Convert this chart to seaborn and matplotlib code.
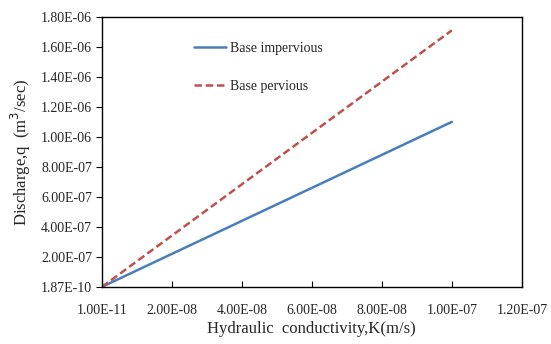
import matplotlib
matplotlib.use("Agg")
import matplotlib.pyplot as plt
import seaborn as sns
import pandas as pd

# Data
k_values = [1e-11, 1e-7]
q_impervious = [1.87e-10, 1.10e-6]
q_pervious = [1.87e-10, 1.71e-6]

x_ticks = [0, 2e-8, 4e-8, 6e-8, 8e-8, 1e-7, 1.2e-7]
x_tick_labels = ["1.00E-11", "2.00E-08", "4.00E-08", "6.00E-08", "8.00E-08", "1.00E-07", "1.20E-07"]
y_ticks = [0, 2e-7, 4e-7, 6e-7, 8e-7, 1e-6, 1.2e-6, 1.4e-6, 1.6e-6, 1.8e-6]
y_tick_labels = ["1.87E-10", "2.00E-07", "4.00E-07", "6.00E-07", "8.00E-07", "1.00E-06",
                 "1.20E-06", "1.40E-06", "1.60E-06", "1.80E-06"]

df = pd.DataFrame({
    "K": k_values * 2,
    "q": q_impervious + q_pervious,
    "series": ["Base impervious"] * len(k_values) + ["Base pervious"] * len(k_values),
})

sns.set_style("white")
plt.rcParams["font.family"] = ["Liberation Serif", "DejaVu Serif"]

fig = plt.figure(figsize=(5.51, 3.44), dpi=100)
ax = fig.add_axes([0.185, 0.166, 0.762, 0.785])

palette = {"Base impervious": "#4a7ebb", "Base pervious": "#c0504d"}
sns.lineplot(data=df, x="K", y="q", hue="series", style="series",
             palette=palette, dashes={"Base impervious": "", "Base pervious": (3, 1.5)},
             linewidth=1.8, ax=ax)

ax.set_xlim(0, 1.2e-7)
ax.set_ylim(0, 1.8e-6)
ax.set_xticks(x_ticks)
ax.set_xticklabels(x_tick_labels)
ax.set_yticks(y_ticks)
ax.set_yticklabels(y_tick_labels)
ax.tick_params(axis="x", direction="in", length=4, labelsize=10, pad=12, color="black")
ax.tick_params(axis="y", direction="out", length=4, labelsize=10, pad=3, color="black")
ax.tick_params(bottom=True, left=True)
for s in ax.spines.values():
    s.set_color("black")
    s.set_linewidth(1.0)

ax.set_xlabel("Hydraulic  conductivity,K(m/s)", fontsize=12, labelpad=3)
ax.set_ylabel("Discharge,q  (m$^3$/sec)", fontsize=12, labelpad=6)

leg = ax.legend(loc="upper left", bbox_to_anchor=(0.19, 0.955), frameon=False,
                fontsize=10, handlelength=2.3, handletextpad=0.3, labelspacing=1.8)

fig.savefig("out.png", dpi=100)
